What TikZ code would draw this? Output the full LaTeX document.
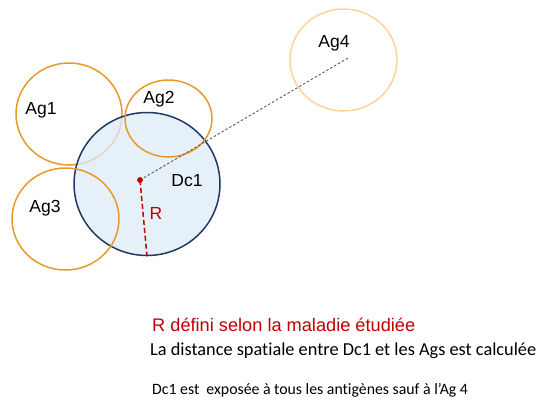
\documentclass[tikz,border=0pt]{standalone}
\usepackage{fontspec}
\setmainfont{Liberation Sans}
\newfontfamily\calib[Ligatures=NoCommon]{Carlito}
\usetikzlibrary{shapes.geometric}
\definecolor{agor}{HTML}{E8992C}
\definecolor{agpale}{HTML}{FFD49A}
\definecolor{dcfill}{HTML}{DDEBF7}
\definecolor{dcline}{HTML}{203864}
\definecolor{rred}{HTML}{C00000}
\definecolor{dgray}{HTML}{595959}
\tikzset{
  agcirc/.style={ellipse, draw=agor, line width=1.5pt, inner sep=0pt},
  lbl/.style={font=\fontsize{17.5}{20}\selectfont, text=black, inner sep=0pt},
  note/.style={anchor=west, inner sep=0pt},
}
\begin{document}
\begin{tikzpicture}[x=1pt,y=-1pt]
\useasboundingbox (0,0) rectangle (537,399);
% Ag1 (beneath Dc1)
\node[agcirc, minimum width=106pt, minimum height=102pt] (ag1) at (69,114) {};
% Dc1
\node[ellipse, draw=dcline, line width=1.5pt, fill=dcfill, fill opacity=0.75, draw opacity=1, minimum width=146pt, minimum height=143pt, inner sep=0pt] (dc1) at (147,184) {};
% Ag2, Ag3 on top
\node[agcirc, minimum width=87pt, minimum height=77pt] (ag2) at (168.5,118.5) {};
\node[agcirc, minimum width=107pt, minimum height=102pt] (ag3) at (65.5,219) {};
% Ag4
\node[agcirc, draw=agpale, minimum width=107pt, minimum height=102pt] (ag4) at (343.5,60) {};
\coordinate (ag4c) at (348,58);
% labels
\node[lbl] (l1) at (41,110) {Ag1};
\node[lbl] (l2) at (159,99) {Ag2};
\node[lbl] (l3) at (45,208) {Ag3};
\node[lbl] (l4) at (334,43) {Ag4};
\node[lbl] (ldc) at (187,181) {Dc1};
\node[lbl, text=rred] (lr) at (156,213) {R};
% center dot and radius
\node[circle, fill=rred, minimum size=5.5pt, inner sep=0pt] (dot) at (140,180) {};
\draw[dgray, line width=0.9pt, dash pattern=on 2.5pt off 2pt] (dot.center) -- (ag4c);
\draw[rred, line width=1.5pt, dash pattern=on 5pt off 3pt] (dot.center) -- (dc1.south);
\node[circle, fill=rred, minimum size=5.5pt, inner sep=0pt] at (dot) {};
% notes
\node[note, text=rred, font=\fontsize{18.2}{20}\selectfont] (n1) at (152,325) {R défini selon la maladie étudiée};
\node[note, font=\calib\fontsize{18.3}{20}\selectfont] (n2) at (150,351) {La distance spatiale entre Dc1 et les Ags est calculée};
\node[note, font=\calib\fontsize{15.8}{20}\selectfont] (n3) at (152,390) {Dc1 est\ \ exposée à tous les antigènes sauf à l’Ag 4};
\end{tikzpicture}
\end{document}
